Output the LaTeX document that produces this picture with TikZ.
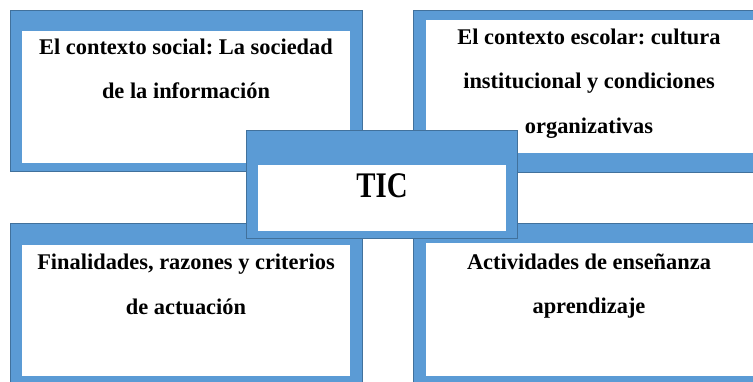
\documentclass[tikz,border=0pt]{standalone}
\usepackage{fontspec}
\setmainfont{Liberation Serif}[BoldFont={Liberation Serif Bold}]
\frenchspacing
\definecolor{frameblue}{HTML}{5B9BD5}
\definecolor{frameedge}{HTML}{41719C}
\tikzset{
  frameout/.style={fill=frameblue, draw=frameedge, line width=1pt},
  framein/.style={fill=white},
  boxtext/.style={anchor=base, inner sep=0pt, font=\rmfamily\bfseries\fontsize{22.4}{26}\selectfont},
  tictext/.style={anchor=base, inner sep=0pt, font=\rmfamily\bfseries\fontsize{36}{40}\selectfont}
}
\begin{document}
\begin{tikzpicture}[x=1pt,y=-1pt]
\useasboundingbox (0,0) rectangle (753,381);
\clip (0,0) rectangle (753,381);
% top-left
\path[frameout] (10,10) rectangle (362,171);
\path[framein] (22,31) rectangle (350,163);
\node[boxtext] (tl1) at (186,54) {El contexto social: La sociedad};
\node[boxtext] (tl2) at (186,98) {de la información};
% top-right
\path[frameout] (413,10) rectangle (766,172);
\path[framein] (426,20) rectangle (753.5,153);
\node[boxtext] (tr1) at (589,44) {El contexto escolar: cultura};
\node[boxtext] (tr2) at (589,88.5) {institucional y condiciones};
\node[boxtext] (tr3) at (589,133) {organizativas};
% bottom-left
\path[frameout] (10,223) rectangle (362,390);
\path[framein] (22,245) rectangle (350,376);
\node[boxtext] (bl1) at (186,269) {Finalidades, razones y criterios};
\node[boxtext] (bl2) at (186,314) {de actuación};
% bottom-right
\path[frameout] (413,223) rectangle (766,390);
\path[framein] (426,243) rectangle (753.5,376);
\node[boxtext] (br1) at (589,269) {Actividades de enseñanza};
\node[boxtext] (br2) at (589,313) {aprendizaje};
% centre
\path[frameout] (246,130) rectangle (517,238.5);
\path[framein] (258,165) rectangle (506,231);
\node[tictext] (tic) at (382,197.7) {\scalebox{0.8}[1]{TIC}};
\end{tikzpicture}
\end{document}
